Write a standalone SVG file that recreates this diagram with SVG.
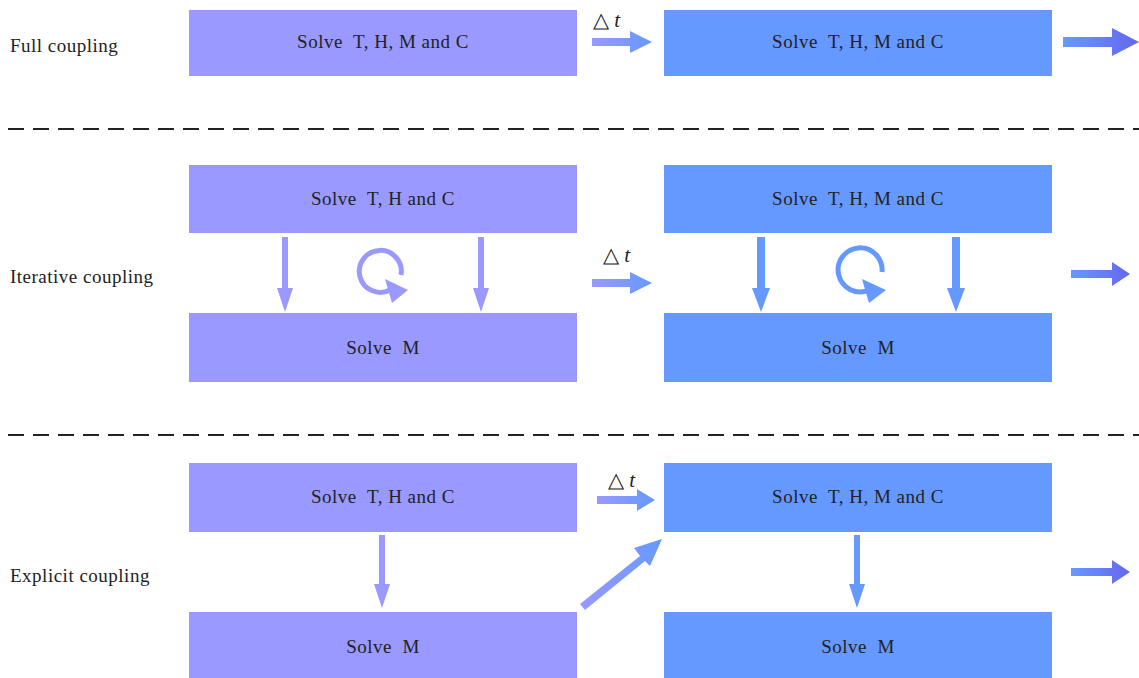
<svg xmlns="http://www.w3.org/2000/svg" width="1139" height="678" viewBox="0 0 1139 678">
<defs>
<linearGradient id="gDt" x1="0" y1="0" x2="1" y2="0"><stop offset="0" stop-color="#9999FF"/><stop offset="1" stop-color="#6699FF"/></linearGradient>
<linearGradient id="gOut" x1="0" y1="0" x2="1" y2="0"><stop offset="0" stop-color="#6699FF"/><stop offset="1" stop-color="#6666EE"/></linearGradient>
<linearGradient id="gDiag" x1="0" y1="1" x2="1" y2="0"><stop offset="0" stop-color="#9999FF"/><stop offset="1" stop-color="#6699FF"/></linearGradient>
</defs>
<style>
.l{fill:#9999FF}.b{fill:#6699FF}
text{font-family:"Liberation Serif","Times New Roman",serif;font-size:19px;letter-spacing:0.5px;fill:#222;white-space:pre}
.c{text-anchor:middle}
.dt{font-size:21px;letter-spacing:0}
.dash{stroke:#222;stroke-width:2;stroke-dasharray:16,9;fill:none}
</style>
<g id="labels">
<text x="10" y="52">Full coupling</text>
<text x="10" y="283">Iterative coupling</text>
<text x="10" y="582">Explicit coupling</text>
</g>
<line class="dash" x1="8" y1="129" x2="1139" y2="129"/>
<line class="dash" x1="8" y1="435" x2="1139" y2="435"/>
<g id="n1"><rect class="l" x="189" y="10" width="388" height="66"/><text class="c" x="383" y="48" xml:space="preserve">Solve  T, H, M and C</text></g>
<g id="n2"><rect class="b" x="664" y="10" width="388" height="66"/><text class="c" x="858" y="48" xml:space="preserve">Solve  T, H, M and C</text></g>
<g id="n3"><rect class="l" x="189" y="165" width="388" height="68"/><text class="c" x="383" y="205" xml:space="preserve">Solve  T, H and C</text></g>
<g id="n4"><rect class="l" x="189" y="313" width="388" height="69"/><text class="c" x="383" y="354" xml:space="preserve">Solve  M</text></g>
<g id="n5"><rect class="b" x="664" y="165" width="388" height="68"/><text class="c" x="858" y="205" xml:space="preserve">Solve  T, H, M and C</text></g>
<g id="n6"><rect class="b" x="664" y="313" width="388" height="69"/><text class="c" x="858" y="354" xml:space="preserve">Solve  M</text></g>
<g id="n7"><rect class="l" x="189" y="463" width="388" height="69"/><text class="c" x="383" y="503" xml:space="preserve">Solve  T, H and C</text></g>
<g id="n8"><rect class="l" x="189" y="612" width="388" height="66"/><text class="c" x="383" y="653" xml:space="preserve">Solve  M</text></g>
<g id="n9"><rect class="b" x="664" y="463" width="388" height="69"/><text class="c" x="858" y="503" xml:space="preserve">Solve  T, H, M and C</text></g>
<g id="n10"><rect class="b" x="664" y="612" width="388" height="66"/><text class="c" x="858" y="653" xml:space="preserve">Solve  M</text></g>
<g id="connectors">
<!-- row 1 -->
<text class="dt" x="593" y="27">△ <tspan font-style="italic">t</tspan></text>
<path d="M592,38 H630 V31 L652,42 L630,53 V46 H592 Z" fill="url(#gDt)"/>
<path d="M1063,37 H1112 V28 L1139,42 L1112,56 V47 H1063 Z" fill="url(#gOut)"/>
<!-- row 2 -->
<text class="dt" x="603" y="262">△ <tspan font-style="italic">t</tspan></text>
<path d="M592,279 H630 V272 L652,283 L630,294 V287 H592 Z" fill="url(#gDt)"/>
<path d="M1071,270 H1112 V262 L1130,274 L1112,286 V278 H1071 Z" fill="url(#gOut)"/>
<path d="M282,237 H288 V288 H293 L285,312 L277,288 H282 Z" fill="#9999FF"/>
<path d="M478,237 H484 V288 H489 L481,312 L473,288 H478 Z" fill="#9999FF"/>
<path d="M401,275 A21,21 0 1 0 390,290" fill="none" stroke="#9999FF" stroke-width="5"/>
<path d="M385,279 L408,290 L392,303 Z" fill="#9999FF"/>
<path d="M757,237 H765 V288 H770 L761,312 L752,288 H757 Z" fill="#6699FF"/>
<path d="M952,237 H960 V288 H965 L956,312 L947,288 H952 Z" fill="#6699FF"/>
<path d="M882,272 A22,22 0 1 0 869,290" fill="none" stroke="#6699FF" stroke-width="5"/>
<path d="M862,279 L886,290 L869,303 Z" fill="#6699FF"/>
<!-- row 3 -->
<text class="dt" x="608" y="487">△ <tspan font-style="italic">t</tspan></text>
<path d="M597,496 H637 V489 L655,500 L637,511 V504 H597 Z" fill="url(#gDt)"/>
<path d="M1071,568 H1112 V560 L1130,572 L1112,584 V576 H1071 Z" fill="url(#gOut)"/>
<path d="M379,535 H385 V584 H390 L382,608 L374,584 H379 Z" fill="#9999FF"/>
<path d="M854,535 H860 V584 H865 L857,608 L849,584 H854 Z" fill="#6699FF"/>
<path d="M580,604 L640,556 L634,548 L662,539 L650,566 L645,561 L585,610 Z" fill="url(#gDiag)"/>
</g>
</svg>
